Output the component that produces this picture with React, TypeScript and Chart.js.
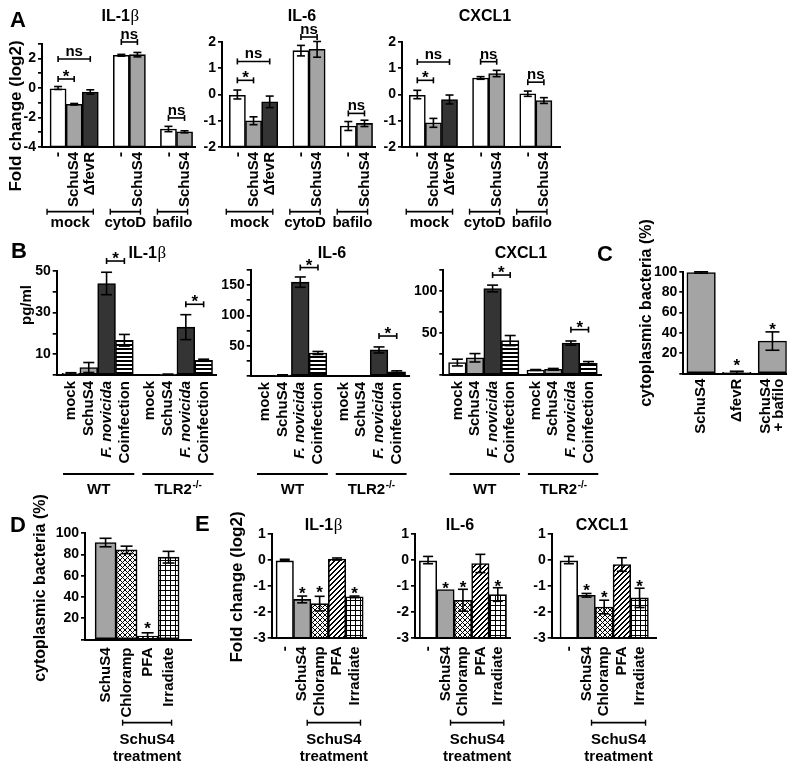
import React, { useEffect, useRef } from 'react';
import { Chart, registerables } from 'chart.js';

Chart.register(...registerables);

const SANS = "'Liberation Sans', Arial, Helvetica, sans-serif";
const SERIF = "'Liberation Serif', 'Times New Roman', serif";
Chart.defaults.font.family = SANS;
Chart.defaults.color = '#000';

const PAGE_W = 800;
const PAGE_H = 771;

// ================= DATA =================
// Panel A - fold change (log2)
const A_LABELS = ['-', 'SchuS4', 'ΔfevR', '-', 'SchuS4', '-', 'SchuS4'];
const A_GROUPS = ['mock', 'cytoD', 'bafilo'];
const A_GROUP_SIZES = [3, 2, 2];
const A_IL1B_YLABELS = [2, 0, -2, -4];
const A_YLABELS = [2, 1, 0, -1, -2];
const A_IL1B = [0.0, -1.1, -0.27, 2.22, 2.26, -2.78, -2.97];
const A_IL1B_ERR = [0.1, 0.05, 0.15, 0.06, 0.15, 0.18, 0.07];
const A_IL6 = [0.0, -1.0, -0.28, 1.67, 1.72, -1.2, -1.1];
const A_IL6_ERR = [0.17, 0.15, 0.22, 0.2, 0.3, 0.17, 0.12];
const A_CXCL1 = [0.0, -1.08, -0.19, 0.63, 0.8, 0.03, -0.23];
const A_CXCL1_ERR = [0.16, 0.17, 0.17, 0.05, 0.12, 0.1, 0.11];

// Panel B - pg/ml
const B_LABELS = ['mock', 'SchuS4', 'F. novicida', 'Coinfection', 'mock', 'SchuS4', 'F. novicida', 'Coinfection'];
const B_GROUPS = ['WT', 'TLR2-/-'];
const B_GROUP_SIZES = [4, 4];
const B_IL1B = [0.8, 3.6, 44, 16.7, 0, 0.3, 23, 7.1];
const B_IL1B_ERR = [0.3, 2.4, 5.4, 2.8, 0, 0.1, 6, 0.5];
const B_IL1B_YLABELS = [10, 30, 50];
const B_IL6 = [0, 1.5, 155, 38, 0, 0, 43, 7];
const B_IL6_ERR = [0, 0.5, 8.5, 2.5, 0, 0, 5, 1.5];
const B_IL6_YLABELS = [50, 100, 150];
const B_CXCL1 = [14.8, 20.5, 103, 41, 6, 6.8, 38, 14];
const B_CXCL1_ERR = [4, 5, 4, 6, 0.5, 1, 2.5, 2];
const B_CXCL1_YLABELS = [50, 100];

// Panel C - cytoplasmic bacteria (%)
const C_LABELS = ['SchuS4', 'ΔfevR', ['SchuS4', '+ bafilo']];
const C_VALUES = [99.2, 1.4, 32];
const C_ERR = [0.7, 1, 9];
const PCT_YLABELS = [20, 40, 60, 80, 100];

// Panel D - cytoplasmic bacteria (%)
const D_LABELS = ['SchuS4', 'Chloramp', 'PFA', 'Irradiate'];
const D_VALUES = [91.3, 84.4, 3.3, 77.5];
const D_ERR = [4, 3.5, 3, 5.5];

// Panel E - fold change (log2)
const E_LABELS = ['-', 'SchuS4', 'Chloramp', 'PFA', 'Irradiate'];
const E_YLABELS = [1, 0, -1, -2, -3];
const E_IL1B = [0, -1.51, -1.67, 0.04, -1.41];
const E_IL1B_ERR = [0.03, 0.13, 0.28, 0.04, 0.03];
const E_IL6 = [0, -1.13, -1.54, -0.13, -1.32];
const E_IL6_ERR = [0.14, 0, 0.42, 0.35, 0.26];
const E_CXCL1 = [0, -1.35, -1.8, -0.17, -1.45];
const E_CXCL1_ERR = [0.14, 0.07, 0.26, 0.26, 0.37];
const TREATMENT_LINES = ['SchuS4', 'treatment'];

// ================= STYLES =================
const A_FILLS = ['white', 'gray', 'dark', 'white', 'gray', 'white', 'gray'];
const B_FILLS = ['white', 'gray', 'dark', 'hstripe', 'white', 'gray', 'dark', 'hstripe'];
const C_FILLS = ['gray', 'gray', 'gray'];
const D_FILLS = ['gray', 'cross', 'diag', 'grid'];
const E_FILLS = ['white', 'gray', 'cross', 'diag', 'grid'];

function makeFill(kind: string): any {
  if (kind === 'white') return '#ffffff';
  if (kind === 'gray') return '#a4a4a4';
  if (kind === 'dark') return '#343434';
  const n = kind === 'hstripe' ? 4 : 5;
  const c = document.createElement('canvas');
  c.width = n;
  c.height = n;
  const g = c.getContext('2d') as CanvasRenderingContext2D;
  g.fillStyle = '#fff';
  g.fillRect(0, 0, n, n);
  g.fillStyle = '#000';
  if (kind === 'hstripe') {
    g.fillRect(0, 0, n, 2);
  } else if (kind === 'cross') {
    for (let i = 0; i < n; i++) {
      g.fillRect(i, i, 1, 1);
      g.fillRect(n - 1 - i, i, 1, 1);
    }
  } else if (kind === 'diag') {
    for (let i = 0; i < n; i++) {
      g.fillRect(n - 1 - i, i, 1, 1);
      g.fillRect((n - i) % n, i, 1, 1);
    }
  } else if (kind === 'grid') {
    g.fillRect(0, 0, n, 1);
    g.fillRect(0, 0, 1, n);
  }
  return g.createPattern(c, 'repeat');
}

function groupsFromSizes(names: string[], sizes: number[]) {
  let s = 0;
  return names.map((n, k) => {
    const it = { lines: [n], a: s, b: s + sizes[k] - 1 };
    s += sizes[k];
    return it;
  });
}

const A_GROUP_DECOR = { items: groupsFromSizes(A_GROUPS, A_GROUP_SIZES), mode: 'edge', dl: -3, dr: -5, y: 211.7, baselines: [227], caps: true };
const B_GROUP_DECOR = { items: groupsFromSizes(B_GROUPS, B_GROUP_SIZES), mode: 'edge', dl: 1, dr: 1, y: 474, baselines: [494], caps: false };
const D_GROUP_DECOR = { items: [{ lines: TREATMENT_LINES, a: 1, b: 3 }], mode: 'center', dl: -4, dr: 3, y: 722.7, baselines: [744, 761], caps: true };
const E_GROUP_DECOR = { items: [{ lines: TREATMENT_LINES, a: 1, b: 4 }], mode: 'center', dl: 5, dr: 6, y: 722.7, baselines: [744, 761], caps: true };

const SPECS: any[] = [
  // ---- A ----
  {
    plot: [42, 43.75, 195, 147], yMin: -4, yMax: 3, yStep: 1, yLabels: A_IL1B_YLABELS,
    labels: A_LABELS, values: A_IL1B, errors: A_IL1B_ERR, fills: A_FILLS, groupSizes: A_GROUP_SIZES,
    padL: 0.5, gap: 0.93, padR: 0.15, barFrac: 1, tickPad: 5, capHalf: 4,
    brackets: [{ a: 0, b: 2, y: 1.97, text: 'ns' }, { a: 0, b: 1, y: 0.61, text: '*' }, { a: 3, b: 4, y: 3.12, text: 'ns' }, { a: 5, b: 6, y: -2.03, text: 'ns' }],
    stars: [], title: { text: 'IL-1β', x: 120, y: 20.5 }, letter: { text: 'A', x: 10, y: 27 },
    yTitle: { text: 'Fold change (log2)', x: 16, y: 116, size: 17 }, groups: A_GROUP_DECOR,
  },
  {
    plot: [222, 42, 375, 147], yMin: -2, yMax: 2, yStep: 1, yLabels: A_YLABELS,
    labels: A_LABELS, values: A_IL6, errors: A_IL6_ERR, fills: A_FILLS, groupSizes: A_GROUP_SIZES,
    padL: 0.45, gap: 0.93, padR: 0.15, barFrac: 1, tickPad: 5, capHalf: 4,
    brackets: [{ a: 0, b: 2, y: 1.26, text: 'ns' }, { a: 0, b: 1, y: 0.54, text: '*' }, { a: 3, b: 4, y: 2.19, text: 'ns' }, { a: 5, b: 6, y: -0.72, text: 'ns' }],
    stars: [], title: { text: 'IL-6', x: 302, y: 20.5 }, groups: A_GROUP_DECOR,
  },
  {
    plot: [402, 42, 560, 147], yMin: -2, yMax: 2, yStep: 1, yLabels: A_YLABELS,
    labels: A_LABELS, values: A_CXCL1, errors: A_CXCL1_ERR, fills: A_FILLS, groupSizes: A_GROUP_SIZES,
    padL: 0.45, gap: 0.93, padR: 0.5, barFrac: 1, tickPad: 5, capHalf: 4,
    brackets: [{ a: 0, b: 2, y: 1.24, text: 'ns' }, { a: 0, b: 1, y: 0.54, text: '*' }, { a: 3, b: 4, y: 1.25, text: 'ns' }, { a: 5, b: 6, y: 0.47, text: 'ns' }],
    stars: [], title: { text: 'CXCL1', x: 485, y: 20.5 }, groups: A_GROUP_DECOR,
  },
  // ---- B ----
  {
    plot: [56.7, 271, 217, 375], yMin: 0, yMax: 50, yStep: 10, yLabels: B_IL1B_YLABELS,
    labels: B_LABELS, italic: [2, 6], values: B_IL1B, errors: B_IL1B_ERR, fills: B_FILLS, groupSizes: B_GROUP_SIZES,
    padL: 0.3, gap: 0.45, padR: 0.25, barFrac: 1, tickPad: 6, capHalf: 5.5,
    brackets: [{ a: 2, b: 3, y: 54.8, text: '*' }, { a: 6, b: 7, y: 34, text: '*' }],
    stars: [], title: { text: 'IL-1β', x: 147, y: 258 }, letter: { text: 'B', x: 11, y: 258 },
    yTitle: { text: 'pg/ml', x: 27, y: 305, size: 15 }, groups: B_GROUP_DECOR,
  },
  {
    plot: [250.7, 270, 410, 376], yMin: 0, yMax: 175, yStep: 25, yLabels: B_IL6_YLABELS,
    labels: B_LABELS, italic: [2, 6], values: B_IL6, errors: B_IL6_ERR, fills: B_FILLS, groupSizes: B_GROUP_SIZES,
    padL: 0.3, gap: 0.45, padR: 0.25, barFrac: 1, tickPad: 6, capHalf: 5.5,
    brackets: [{ a: 2, b: 3, y: 179, text: '*' }, { a: 6, b: 7, y: 66, text: '*' }],
    stars: [], title: { text: 'IL-6', x: 332, y: 258 }, groups: B_GROUP_DECOR,
  },
  {
    plot: [443.3, 270, 601.7, 375], yMin: 0, yMax: 125, yStep: 25, yLabels: B_CXCL1_YLABELS,
    labels: B_LABELS, italic: [2, 6], values: B_CXCL1, errors: B_CXCL1_ERR, fills: B_FILLS, groupSizes: B_GROUP_SIZES,
    padL: 0.3, gap: 0.45, padR: 0.25, barFrac: 1, tickPad: 6, capHalf: 5.5,
    brackets: [{ a: 2, b: 3, y: 119, text: '*' }, { a: 6, b: 7, y: 54, text: '*' }],
    stars: [], title: { text: 'CXCL1', x: 521, y: 258 }, groups: B_GROUP_DECOR,
  },
  // ---- C ----
  {
    plot: [683.3, 271.7, 786.7, 373.7], yMin: 0, yMax: 100, yStep: 20, yLabels: PCT_YLABELS,
    labels: C_LABELS, values: C_VALUES, errors: C_ERR, fills: C_FILLS, groupSizes: [3],
    padL: 0, gap: 0, padR: -0.1, barFrac: 0.8, tickPad: 5, tickShiftPx: [0, 0, -6.5], capHalf: 7,
    brackets: [], stars: [{ i: 1, y: 11.5 }, { i: 2, y: 47 }],
    letter: { text: 'C', x: 597, y: 261 }, yTitle: { text: 'cytoplasmic bacteria (%)', x: 646.7, y: 313, size: 16 },
  },
  // ---- D ----
  {
    plot: [85, 533.3, 191.7, 639.5], yMin: 0, yMax: 100, yStep: 20, yLabels: PCT_YLABELS,
    labels: D_LABELS, values: D_VALUES, errors: D_ERR, fills: D_FILLS, groupSizes: [4],
    padL: 0.48, gap: 0, padR: 0.6, barFrac: 1, tickPad: 8, capHalf: 6,
    brackets: [], stars: [{ i: 2, y: 13.7 }],
    letter: { text: 'D', x: 10, y: 531.7 }, yTitle: { text: 'cytoplasmic bacteria (%)', x: 41, y: 588, size: 16 }, groups: D_GROUP_DECOR,
  },
  // ---- E ----
  {
    plot: [271.7, 534, 366.7, 638.3], yMin: -3, yMax: 1, yStep: 1, yLabels: E_YLABELS,
    labels: E_LABELS, values: E_IL1B, errors: E_IL1B_ERR, fills: E_FILLS, groupSizes: [5],
    padL: 0.25, gap: 0, padR: 0.2, barFrac: 1, tickPad: 8, capHalf: 5,
    brackets: [], stars: [{ i: 1, y: -1.12 }, { i: 2, y: -1.1 }, { i: 4, y: -1.14 }],
    title: { text: 'IL-1β', x: 323.3, y: 530 }, letter: { text: 'E', x: 195, y: 531 },
    yTitle: { text: 'Fold change (log2)', x: 237, y: 587, size: 17 }, groups: E_GROUP_DECOR,
  },
  {
    plot: [415, 534, 510, 638.3], yMin: -3, yMax: 1, yStep: 1, yLabels: E_YLABELS,
    labels: E_LABELS, values: E_IL6, errors: E_IL6_ERR, fills: E_FILLS, groupSizes: [5],
    padL: 0.25, gap: 0, padR: 0.2, barFrac: 1, tickPad: 8, capHalf: 5,
    brackets: [], stars: [{ i: 1, y: -0.96 }, { i: 2, y: -0.92 }, { i: 4, y: -0.86 }],
    title: { text: 'IL-6', x: 460, y: 530 }, groups: E_GROUP_DECOR,
  },
  {
    plot: [551.7, 534, 656.7, 638.3], yMin: -3, yMax: 1, yStep: 1, yLabels: E_YLABELS,
    labels: E_LABELS, values: E_CXCL1, errors: E_CXCL1_ERR, fills: E_FILLS, groupSizes: [5],
    padL: 0.47, gap: 0, padR: 0.47, barFrac: 1, tickPad: 8, capHalf: 5,
    brackets: [], stars: [{ i: 1, y: -1.03 }, { i: 2, y: -1.3 }, { i: 4, y: -0.86 }],
    title: { text: 'CXCL1', x: 602, y: 530 }, groups: E_GROUP_DECOR,
  },
];

// ================= DRAW HELPERS =================
function slotPositions(sizes: number[], padL: number, gap: number) {
  const pos: number[] = [];
  let x = padL + 0.5;
  sizes.forEach((n) => {
    for (let k = 0; k < n; k++) {
      pos.push(x);
      x += 1;
    }
    x += gap;
  });
  return pos;
}

function seg(ctx: CanvasRenderingContext2D, x1: number, y1: number, x2: number, y2: number) {
  ctx.beginPath();
  ctx.moveTo(x1, y1);
  ctx.lineTo(x2, y2);
  ctx.stroke();
}

function drawRich(ctx: CanvasRenderingContext2D, text: string, cx: number, baseline: number, size: number) {
  ctx.textBaseline = 'alphabetic';
  if (text.endsWith('-/-')) {
    const main = text.slice(0, -3);
    ctx.font = `bold ${size}px ${SANS}`;
    const w1 = ctx.measureText(main).width;
    ctx.font = `bold ${Math.round(size * 0.68)}px ${SANS}`;
    const w2 = ctx.measureText('-/-').width;
    const x0 = cx - (w1 + w2) / 2;
    ctx.textAlign = 'left';
    ctx.font = `bold ${size}px ${SANS}`;
    ctx.fillText(main, x0, baseline);
    ctx.font = `bold ${Math.round(size * 0.68)}px ${SANS}`;
    ctx.fillText('-/-', x0 + w1 + 0.5, baseline - size * 0.42);
    return;
  }
  if (text.includes('β')) {
    const [main] = text.split('β');
    const fMain = `bold ${size}px ${SANS}`;
    const fB = `${size + 1}px ${SERIF}`;
    ctx.font = fMain;
    const w1 = ctx.measureText(main).width;
    ctx.font = fB;
    const w2 = ctx.measureText('β').width;
    const x0 = cx - (w1 + w2) / 2;
    ctx.textAlign = 'left';
    ctx.font = fMain;
    ctx.fillText(main, x0, baseline);
    ctx.font = fB;
    ctx.fillText('β', x0 + w1 + 0.5, baseline);
    return;
  }
  ctx.font = `bold ${size}px ${SANS}`;
  ctx.textAlign = 'center';
  ctx.fillText(text, cx, baseline);
}

function buildChart(canvas: HTMLCanvasElement, s: any) {
  const pos = slotPositions(s.groupSizes, s.padL, s.gap);
  const xMax = pos[pos.length - 1] + 0.5 + s.padR;
  const [pl, pt, pr, pb] = s.plot;
  const ppu = (pr - pl) / xMax;
  const barPx = ppu * s.barFrac;
  const YW = 40;
  const XH = 110;
  const tickVals = pos.map((p, i) => p + ((s.tickShiftPx && s.tickShiftPx[i]) || 0) / ppu);
  const fills = s.fills.map(makeFill);

  const annot = {
    id: 'annot',
    afterDraw(chart: any) {
      const ctx: CanvasRenderingContext2D = chart.ctx;
      const xs = chart.scales.x;
      const ys = chart.scales.y;
      const px = (i: number) => xs.getPixelForValue(pos[i]);
      const py = (v: number) => ys.getPixelForValue(v);
      ctx.save();
      ctx.strokeStyle = '#000';
      ctx.fillStyle = '#000';
      ctx.lineWidth = 1.6;
      // error bars
      s.values.forEach((v: number, i: number) => {
        const e = s.errors[i];
        if (!e) return;
        const x = px(i);
        const y1 = py(v + e);
        const y2 = py(v - e);
        seg(ctx, x, y1, x, y2);
        seg(ctx, x - s.capHalf, y1, x + s.capHalf, y1);
        seg(ctx, x - s.capHalf, y2, x + s.capHalf, y2);
      });
      // significance brackets
      s.brackets.forEach((b: any) => {
        const xa = px(b.a);
        const xb = px(b.b);
        const y = py(b.y);
        seg(ctx, xa, y, xb, y);
        seg(ctx, xa, y - 3, xa, y + 3);
        seg(ctx, xb, y - 3, xb, y + 3);
        const cx = (xa + xb) / 2;
        ctx.textAlign = 'center';
        ctx.textBaseline = 'alphabetic';
        if (b.text === '*') {
          ctx.font = `bold 17px ${SANS}`;
          ctx.fillText('*', cx, y + 3);
        } else {
          ctx.font = `bold 15px ${SANS}`;
          ctx.fillText(b.text, cx, y - 3);
        }
      });
      // lone stars
      s.stars.forEach((st: any) => {
        ctx.font = `bold 17px ${SANS}`;
        ctx.textAlign = 'center';
        ctx.textBaseline = 'alphabetic';
        ctx.fillText('*', px(st.i), py(st.y) + 0.55 * 17);
      });
      // chart title
      if (s.title) drawRich(ctx, s.title.text, s.title.x, s.title.y, 16);
      // panel letter
      if (s.letter) {
        ctx.font = `bold 22px ${SANS}`;
        ctx.textAlign = 'left';
        ctx.textBaseline = 'alphabetic';
        ctx.fillText(s.letter.text, s.letter.x, s.letter.y);
      }
      // y axis title
      if (s.yTitle) {
        ctx.save();
        ctx.translate(s.yTitle.x, s.yTitle.y);
        ctx.rotate(-Math.PI / 2);
        ctx.font = `bold ${s.yTitle.size}px ${SANS}`;
        ctx.textAlign = 'center';
        ctx.textBaseline = 'middle';
        ctx.fillText(s.yTitle.text, 0, 0);
        ctx.restore();
      }
      // group labels
      if (s.groups) {
        const g = s.groups;
        g.items.forEach((it: any) => {
          let xa: number;
          let xb: number;
          if (g.mode === 'edge') {
            xa = px(it.a) - barPx / 2 + g.dl;
            xb = px(it.b) + barPx / 2 + g.dr;
          } else {
            xa = px(it.a) + g.dl;
            xb = px(it.b) + g.dr;
          }
          ctx.lineWidth = 1.8;
          seg(ctx, xa, g.y, xb, g.y);
          if (g.caps) {
            ctx.lineWidth = 1.4;
            seg(ctx, xa, g.y - 3, xa, g.y + 3);
            seg(ctx, xb, g.y - 3, xb, g.y + 3);
          }
          const cx = (xa + xb) / 2;
          it.lines.forEach((t: string, k: number) => drawRich(ctx, t, cx, g.baselines[k], 15));
        });
      }
      ctx.restore();
    },
  };

  return new Chart(canvas, {
    type: 'bar',
    data: {
      datasets: [
        {
          data: s.values.map((v: number, i: number) => ({ x: pos[i], y: [s.yMin, v] })),
          backgroundColor: fills,
          borderColor: '#000',
          borderWidth: 1.6,
          borderSkipped: false,
          barThickness: barPx,
        } as any,
      ],
    },
    options: {
      animation: false,
      responsive: false,
      maintainAspectRatio: false,
      devicePixelRatio: 1,
      events: [],
      layout: {
        padding: { left: pl - YW, top: pt, right: PAGE_W - pr, bottom: PAGE_H - pb - XH },
      },
      plugins: { legend: { display: false }, tooltip: { enabled: false }, title: { display: false } },
      scales: {
        x: {
          type: 'linear',
          min: 0,
          max: xMax,
          offset: false,
          afterFit: (sc: any) => {
            sc.height = XH;
          },
          afterBuildTicks: (sc: any) => {
            sc.ticks = tickVals.map((v) => ({ value: v }));
          },
          ticks: {
            autoSkip: false,
            minRotation: 90,
            maxRotation: 90,
            padding: s.tickPad,
            color: '#000',
            font: (c: any) => ({
              family: SANS,
              size: 15,
              weight: 'bold',
              style: s.italic && s.italic.includes(c.index) ? 'italic' : 'normal',
              lineHeight: 0.85,
            }),
            callback: (_v: any, i: number) => s.labels[i],
          },
          grid: { display: false, drawTicks: false },
          border: { display: true, color: '#000', width: 2 },
        },
        y: {
          type: 'linear',
          min: s.yMin,
          max: s.yMax,
          afterFit: (sc: any) => {
            sc.width = YW;
          },
          ticks: {
            stepSize: s.yStep,
            autoSkip: false,
            padding: 2,
            color: '#000',
            font: { family: SANS, size: 14, weight: 'bold' },
            callback: (v: any) => (s.yLabels.includes(Math.round(v * 1000) / 1000) ? String(v) : ''),
          },
          grid: { display: true, drawOnChartArea: false, drawTicks: true, tickLength: 4, color: '#000', lineWidth: 1.7 },
          border: { display: true, color: '#000', width: 2 },
        },
      },
    } as any,
    plugins: [annot],
  });
}

function Panel({ spec }: { spec: any }) {
  const ref = useRef<HTMLCanvasElement>(null);
  useEffect(() => {
    if (!ref.current) return;
    const chart = buildChart(ref.current, spec);
    return () => chart.destroy();
  }, [spec]);
  return (
    <canvas
      ref={ref}
      width={PAGE_W}
      height={PAGE_H}
      style={{ position: 'absolute', left: 0, top: 0, width: PAGE_W, height: PAGE_H }}
    />
  );
}

export default function App() {
  return (
    <div style={{ position: 'absolute', left: 0, top: 0, width: PAGE_W, height: PAGE_H, background: '#fff', overflow: 'hidden' }}>
      {SPECS.map((s, i) => (
        <Panel key={i} spec={s} />
      ))}
    </div>
  );
}
